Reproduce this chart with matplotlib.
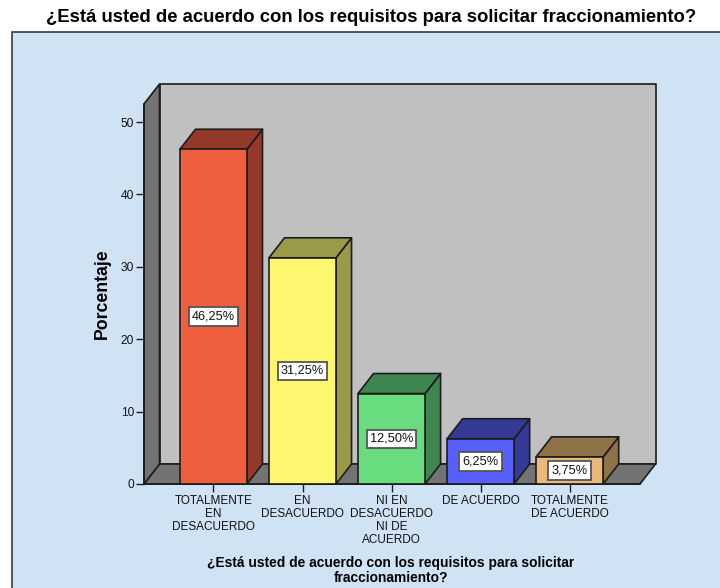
import matplotlib
matplotlib.use("Agg")
import matplotlib.pyplot as plt
from matplotlib.patches import Polygon, Rectangle

plt.rcParams['font.family'] = ['Liberation Sans', 'DejaVu Sans']

# data
categories = ["TOTALMENTE\nEN\nDESACUERDO", "EN\nDESACUERDO", "NI EN\nDESACUERDO\nNI DE\nACUERDO",
              "DE ACUERDO", "TOTALMENTE\nDE ACUERDO"]
values = [46.25, 31.25, 12.50, 6.25, 3.75]
value_labels = ["46,25%", "31,25%", "12,50%", "6,25%", "3,75%"]
y_ticks = [0, 10, 20, 30, 40, 50]

title = "¿Está usted de acuerdo con los requisitos para solicitar fraccionamiento?"
x_title = "¿Está usted de acuerdo con los requisitos para solicitar\nfraccionamiento?"
y_title = "Porcentaje"

# colours: front face, top and side face
front_colors = ["#ef5e3d", "#fdf76f", "#69dc7f", "#5860fb", "#eab97a"]
shade_colors = ["#94392a", "#9b9a48", "#3f8550", "#353a99", "#8f714a"]
edge = "#1c1c1c"

W, H = 720, 588
fig = plt.figure(figsize=(W / 100, H / 100), dpi=100, facecolor="white")

# blue panel behind the chart
fig.add_artist(Rectangle((11.5 / W, -0.01), 1.0, (H - 32) / H + 0.01, transform=fig.transFigure,
                         facecolor="#d0e3f5", edgecolor="#3a3a3a", linewidth=1.2, zorder=-1))
fig.text(371.5 / W, (H - 17) / H, title, ha="center", va="center", fontsize=13.37, fontweight="bold")

# axes sit on the front plane of the fake 3D box
ax = fig.add_axes([144 / W, (H - 484) / H, 496 / W, 380 / H])
ax.patch.set_alpha(0)
x_min, x_max = -0.78, 4.79
y_min, y_max = 0, 52.5
ax.set_xlim(x_min, x_max)
ax.set_ylim(y_min, y_max)

# depth of the box, in data units (15.5 px right, 20 px up)
dx = 15.5 / (496 / (x_max - x_min))
dy = 20 / (380 / (y_max - y_min))
bar_w = 0.753


def face(points, color, z):
    ax.add_patch(Polygon(points, closed=True, facecolor=color, edgecolor=edge, linewidth=1.2,
                         clip_on=False, zorder=z, joinstyle="round"))


# back wall, floor and left wall
face([(x_min + dx, dy), (x_max + dx, dy), (x_max + dx, y_max + dy), (x_min + dx, y_max + dy)], "#c0c0c0", 1)
face([(x_min, 0), (x_max, 0), (x_max + dx, dy), (x_min + dx, dy)], "#737373", 2)
face([(x_min, 0), (x_min + dx, dy), (x_min + dx, y_max + dy), (x_min, y_max)], "#737373", 2)

# bars
for i, v in enumerate(values):
    left = i - bar_w / 2
    right = i + bar_w / 2
    z = 3 + i
    face([(right, 0), (right + dx, dy), (right + dx, v + dy), (right, v)], shade_colors[i], z)
    face([(left, v), (right, v), (right + dx, v + dy), (left + dx, v + dy)], shade_colors[i], z)
    face([(left, 0), (right, 0), (right, v), (left, v)], front_colors[i], z)
    ax.text(i, v / 2, value_labels[i], ha="center", va="center", fontsize=9.2, color="#111111", zorder=20,
            bbox=dict(boxstyle="square,pad=0.25", facecolor="white", edgecolor="#555555", linewidth=1.3))

# axes, ticks and labels
ax.set_xticks(range(len(categories)))
ax.set_xticklabels(categories, fontsize=8.5, linespacing=1.12, color="#111111")
ax.set_yticks(y_ticks)
ax.set_yticklabels([str(t) for t in y_ticks], fontsize=8.6, color="#111111")
ax.tick_params(axis="x", length=5.8, width=1.0, color=edge, pad=2.0)
ax.tick_params(axis="y", length=5.8, width=1.0, color=edge, pad=1.5)
ax.spines["top"].set_visible(False)
ax.spines["right"].set_visible(False)
for side in ["left", "bottom"]:
    ax.spines[side].set_color(edge)
    ax.spines[side].set_linewidth(1.2)
    ax.spines[side].set_zorder(2.5)

ax.set_ylabel(y_title, fontsize=12.7, fontweight="bold", va="center")
ax.yaxis.set_label_coords((102.5 - 144) / 496, (484 - 294) / 380)
ax.set_xlabel(x_title, fontsize=9.95, fontweight="bold", linespacing=1.05, va="top")
ax.xaxis.set_label_coords((391 - 144) / 496, (484 - 556) / 380)

fig.savefig("out.png", dpi=100)
